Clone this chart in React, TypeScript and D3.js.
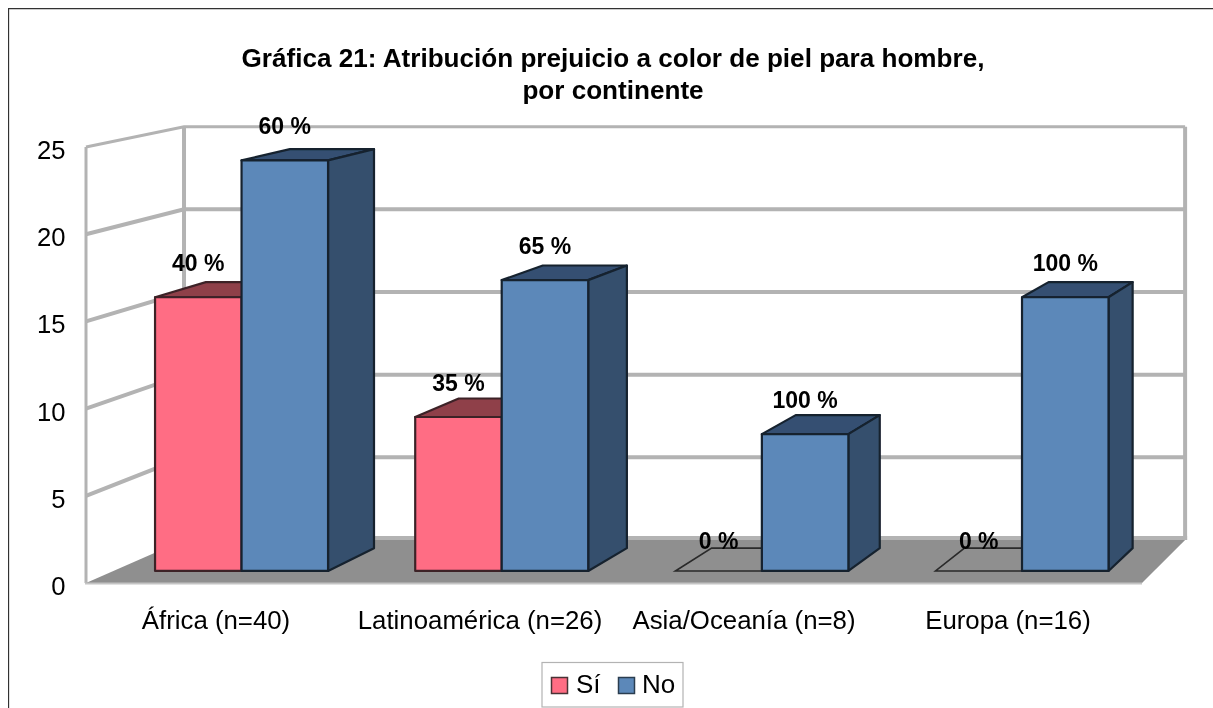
import React from "react";
import * as d3 from "d3";

const titleLines = ["Gráfica 21: Atribución prejuicio a color de piel para hombre,", "por continente"];
const categories = ["África (n=40)", "Latinoamérica (n=26)", "Asia/Oceanía (n=8)", "Europa (n=16)"];
const seriesNames = ["Sí", "No"];
const siValues = [16, 9, 0, 0];
const noValues = [24, 17, 8, 16];
const siLabels = ["40 %", "35 %", "0 %", "0 %"];
const noLabels = ["60 %", "65 %", "100 %", "100 %"];
const yTicks = [0, 5, 10, 15, 20, 25];

const W = 1213;
const H = 708;
const FONT = "'Liberation Sans', Arial, sans-serif";

const colors = {
  "Sí": { front: "#ff6d84", top: "#8f3f4a", side: "#7a3640", edge: "#3d2228" },
  "No": { front: "#5c88b9", top: "#345072", side: "#344f6d", edge: "#16222f" },
};

// front plane scales, everything else goes through the perspective below
const y = d3.scaleLinear().domain([0, 25]).range([583, 147]);
const barY = d3.scaleLinear().domain([0, 25]).range([583, 149]);
const wallX = [86, 1142];
const x0 = d3.scaleBand().domain(categories).range([84, 1140]).paddingInner(0.335).paddingOuter(0.1675);
const x1 = d3.scaleBand().domain(seriesNames).range([0, x0.bandwidth()]);

// depth: 0 = front of the floor, 1 = back wall
const vanish = [1971, -244];
const scaleAt = d3.scaleLinear().domain([0, 1]).range([1, 0.948]);
const project = (px: number, py: number, t: number): [number, number] => {
  const s = scaleAt(t);
  return [vanish[0] + s * (px - vanish[0]), vanish[1] + s * (py - vanish[1])];
};
const barT0 = 0.28;
const barT1 = 0.81;

const line = d3.line();
const poly = (pts: [number, number][]) => line(pts) + "Z";

const Bar = ({ cat, name, value }: { cat: string; name: string; value: number }) => {
  const left = x0(cat)! + x1(name)!;
  const right = left + x1.bandwidth();
  const c = colors[name];
  const a = project(left, barY(value), barT0);
  const b = project(right, barY(value), barT0);
  const cc = project(right, barY(0), barT0);
  const d = project(left, barY(0), barT0);
  const e = project(left, barY(value), barT1);
  const f = project(right, barY(value), barT1);
  const g = project(right, barY(0), barT1);
  if (value === 0) {
    return <path d={poly([a, b, f, e])} fill="none" stroke="#2a2a2a" strokeWidth={1.6} />;
  }
  return (
    <g stroke={c.edge} strokeWidth={2.2} strokeLinejoin="round">
      <path d={poly([a, b, f, e])} fill={c.top} />
      <path d={poly([b, cc, g, f])} fill={c.side} />
      <path d={poly([a, b, cc, d])} fill={c.front} />
    </g>
  );
};

export default function App() {
  const gridColor = "#b3b3b3";
  const backLeft = project(wallX[0], y(0), 1);
  const backRight = project(wallX[1], y(0), 1);
  const backTop = project(wallX[0], y(25), 1);
  const backTopRight = project(wallX[1], y(25), 1);
  const floor = [[wallX[0], y(0)], backLeft, backRight, [wallX[1], y(0)]] as [number, number][];

  return (
    <svg width={W} height={H} style={{ position: "fixed", left: 0, top: 0 }} fontFamily={FONT}>
      <defs>
        <filter id="soft" x="0" y="0" width="100%" height="100%">
          <feGaussianBlur stdDeviation={0.45} />
        </filter>
      </defs>
      <rect width={W} height={H} fill="#fff" />
      <g filter="url(#soft)">
        <path d={`M8.5,${H}V8.5H${W}`} fill="none" stroke="#333" strokeWidth={1.3} />

        {titleLines.map((t, i) => (
          <text key={t} x={613} y={67 + i * 32} textAnchor="middle" fontSize={26.1} fontWeight="bold" fill="#000">
            {t}
          </text>
        ))}

        {/* walls */}
        <line x1={wallX[0]} x2={wallX[0]} y1={y(25)} y2={y(0)} stroke={gridColor} strokeWidth={3} />
        <line x1={backLeft[0]} x2={backTop[0]} y1={backLeft[1]} y2={backTop[1]} stroke={gridColor} strokeWidth={4} />
        <line x1={backRight[0]} x2={backTopRight[0]} y1={backRight[1]} y2={backTopRight[1]} stroke={gridColor} strokeWidth={4} />
        {yTicks.filter((v) => v > 0).map((v) => {
          const bl = project(wallX[0], y(v), 1);
          const br = project(wallX[1], y(v), 1);
          return (
            <path
              key={v}
              d={line([[wallX[0], y(v)], bl, br])!}
              fill="none"
              stroke={gridColor}
              strokeWidth={v === 25 ? 3 : 4}
            />
          );
        })}
        <line x1={backLeft[0]} x2={backRight[0] + 2} y1={backLeft[1] - 2} y2={backRight[1] - 2} stroke={gridColor} strokeWidth={4} />
        <path d={poly(floor)} fill="#8f8f8f" />
        <line x1={wallX[0] - 1} x2={wallX[1]} y1={y(0) + 0.5} y2={y(0) + 0.5} stroke="#c4c4c4" strokeWidth={2} />

        {/* axis labels */}
        {yTicks.map((v) => (
          <text key={v} x={65.5} y={y(v) + 12} textAnchor="end" fontSize={25.6} fill="#000">
            {v}
          </text>
        ))}
        {categories.map((cat) => (
          <text key={cat} x={x0(cat)! + x0.bandwidth() / 2} y={629} textAnchor="middle" fontSize={25.8} fill="#000">
            {cat}
          </text>
        ))}

        {/* bars */}
        {categories.map((cat, i) => (
          <g key={cat}>
            <Bar cat={cat} name="Sí" value={siValues[i]} />
            <Bar cat={cat} name="No" value={noValues[i]} />
          </g>
        ))}

        {/* value labels, the empty bars sit a little lower */}
        {categories.map((cat, i) =>
          seriesNames.map((name) => {
            const value = name === "Sí" ? siValues[i] : noValues[i];
            const label = name === "Sí" ? siLabels[i] : noLabels[i];
            const [px, py] = project(x0(cat)! + x1(name)! + x1.bandwidth() / 2, barY(value), barT0);
            return (
              <text key={name} x={px} y={py - (value === 0 ? 22 : 26)} textAnchor="middle" fontSize={23} fontWeight="bold" fill="#000">
                {label}
              </text>
            );
          })
        )}

        {/* legend */}
        <g>
          <rect x={542} y={662.5} width={141} height={44.5} fill="#fff" stroke="#b3b3b3" strokeWidth={1.2} />
          <rect x={551.5} y={677.5} width={16} height={16} fill={colors["Sí"].front} stroke="#4a3036" strokeWidth={1.5} />
          <text x={576} y={693} fontSize={26} fill="#000">{seriesNames[0]}</text>
          <rect x={618.5} y={677.5} width={16} height={16} fill={colors["No"].front} stroke="#2c3d50" strokeWidth={1.5} />
          <text x={642} y={693} fontSize={26} fill="#000">{seriesNames[1]}</text>
        </g>
      </g>
    </svg>
  );
}
